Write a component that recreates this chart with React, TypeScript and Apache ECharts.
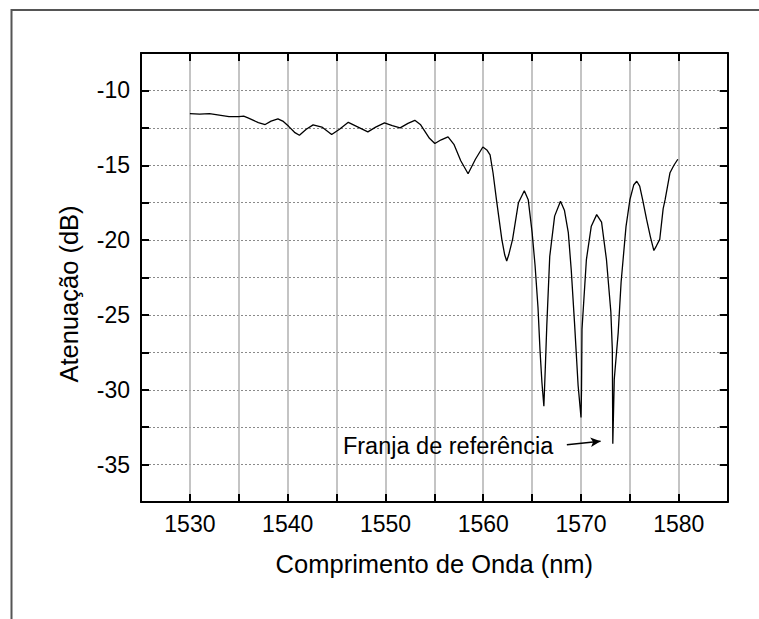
import React, { useEffect, useRef } from "react";
import * as echarts from "echarts";

const wavelengthNm = [
  1530.0, 1531.0, 1532.0, 1533.0, 1534.0, 1535.0, 1535.5, 1536.0, 1537.0, 1537.7,
  1538.3, 1539.0, 1539.5, 1540.1, 1540.7, 1541.2, 1541.9, 1542.6, 1543.5, 1544.5,
  1545.3, 1546.2, 1547.2, 1548.2, 1549.0, 1549.9, 1550.7, 1551.5, 1552.3, 1553.0,
  1553.6, 1554.5, 1555.05, 1555.7, 1556.4, 1557.0, 1557.7, 1558.45, 1559.2, 1559.96,
  1560.4, 1560.7, 1561.0, 1561.35, 1561.9, 1562.2, 1562.4, 1562.6, 1563.0, 1563.6,
  1564.2, 1564.6, 1565.0, 1565.3, 1565.6, 1565.8, 1566.0, 1566.2, 1566.35, 1566.5,
  1566.8, 1567.3, 1567.9, 1568.3, 1568.7, 1569.0, 1569.35, 1569.7, 1570.0, 1570.05,
  1570.1, 1570.55, 1571.05, 1571.6, 1572.1, 1572.6, 1573.05, 1573.2, 1573.25, 1573.4,
  1573.8, 1574.1, 1574.6, 1575.0, 1575.4, 1575.7, 1576.0, 1576.3, 1576.7, 1577.1,
  1577.45, 1577.7, 1578.05, 1578.4, 1578.6, 1579.1, 1579.5, 1579.9,
];

const attenuationDb = [
  -11.55, -11.58, -11.55, -11.65, -11.75, -11.75, -11.72, -11.85, -12.15, -12.28,
  -12.05, -11.9, -12.05, -12.4, -12.8, -13.0, -12.6, -12.3, -12.45, -12.95,
  -12.6, -12.13, -12.45, -12.77, -12.45, -12.17, -12.35, -12.5, -12.2, -12.0,
  -12.3, -13.2, -13.55, -13.3, -13.1, -13.6, -14.7, -15.57, -14.6, -13.78,
  -14.0, -14.3, -15.5, -17.3, -19.95, -21.0, -21.4, -21.0, -19.95, -17.5,
  -16.7, -17.3, -19.5, -21.7, -24.5, -27.3, -29.5, -31.1, -28.5, -25.7,
  -21.1, -18.4, -17.4, -18.0, -19.5, -22.0, -25.7, -29.7, -31.85, -30.0,
  -25.95, -21.3, -19.07, -18.3, -18.8, -21.3, -24.8, -27.3, -33.6, -29.3,
  -26.2, -22.8, -19.1, -17.3, -16.3, -16.07, -16.4, -17.3, -18.6, -19.8,
  -20.7, -20.4, -19.95, -17.9, -17.3, -15.5, -15.0, -14.6,
];

const xLabelValues = [1530, 1540, 1550, 1560, 1570, 1580];
const yLabelValues = [-10, -15, -20, -25, -30, -35];
const xAxisTitle = "Comprimento de Onda (nm)";
const yAxisTitle = "Atenuação (dB)";
const annotationText = "Franja de referência";
const annotationTextAnchor = [1545.65, -33.75];
const annotationArrowFrom = [1568.55, -33.67];
const annotationArrowTo = [1572.0, -33.44];

const FONT = '"Liberation Sans", Arial, Helvetica, sans-serif';

export default function App() {
  const ref = useRef<HTMLDivElement>(null);

  useEffect(() => {
    if (!ref.current) return;
    const chart = echarts.init(ref.current, null, { renderer: "svg" });
    const data = wavelengthNm.map((w, i) => [w, attenuationDb[i]]);

    const frameAxisLine = { show: true, onZero: false, lineStyle: { color: "#000", width: 2 } };
    const frameTick = { show: true, inside: true, length: 8, lineStyle: { color: "#000", width: 2 } };

    chart.setOption({
      animation: false,
      backgroundColor: "#fff",
      grid: {
        left: 141,
        top: 53,
        right: 31.3,
        bottom: 117,
        containLabel: false,
        outerBoundsMode: "none",
      },
      xAxis: [
        {
          type: "value",
          position: "bottom",
          min: 1525,
          max: 1585,
          interval: 5,
          axisLine: frameAxisLine,
          axisTick: frameTick,
          axisLabel: {
            margin: 10,
            fontSize: 23,
            fontFamily: FONT,
            color: "#000",
            formatter: (v: number) => (xLabelValues.includes(v) ? String(v) : ""),
          },
          splitLine: { show: true, lineStyle: { color: "#b0b0b0", width: 1.5 } },
          name: xAxisTitle,
          nameLocation: "middle",
          nameGap: 49,
          nameTextStyle: { fontSize: 25.5, fontFamily: FONT, color: "#000" },
        },
        {
          type: "value",
          position: "top",
          min: 1525,
          max: 1585,
          interval: 5,
          axisLine: frameAxisLine,
          axisTick: frameTick,
          axisLabel: { show: false },
          splitLine: { show: false },
        },
      ],
      yAxis: [
        {
          type: "value",
          position: "left",
          min: -37.5,
          max: -7.5,
          interval: 2.5,
          axisLine: frameAxisLine,
          axisTick: frameTick,
          axisLabel: {
            margin: 11,
            fontSize: 23,
            fontFamily: FONT,
            color: "#000",
            formatter: (v: number) => (yLabelValues.includes(v) ? String(v) : ""),
          },
          splitLine: { show: true, lineStyle: { color: "#8a8a8a", width: 1, type: [2, 2] } },
        },
        {
          type: "value",
          position: "right",
          min: -37.5,
          max: -7.5,
          interval: 2.5,
          axisLine: frameAxisLine,
          axisTick: frameTick,
          axisLabel: { show: false },
          splitLine: { show: false },
        },
      ],
      series: [
        {
          type: "line",
          xAxisIndex: 0,
          yAxisIndex: 0,
          data,
          symbol: "none",
          showSymbol: false,
          lineStyle: { color: "#000", width: 1.3 },
          z: 5,
          markLine: {
            silent: true,
            symbol: ["none", "arrow"],
            symbolSize: [7, 10],
            label: { show: false },
            lineStyle: { color: "#000", width: 1.5, type: "solid" },
            data: [[{ coord: annotationArrowFrom }, { coord: annotationArrowTo }]],
          },
        },
      ],
    });

    const p = chart.convertToPixel({ gridIndex: 0 }, annotationTextAnchor) as number[];
    chart.setOption({
      graphic: [
        {
          type: "polyline",
          shape: { points: [[11.5, 619], [11.5, 10], [759, 10]] },
          style: { stroke: "#555", lineWidth: 2, fill: "none" },
          silent: true,
        },
        {
          type: "text",
          x: 69,
          y: 294,
          rotation: Math.PI / 2,
          style: {
            text: yAxisTitle,
            fontSize: 25.5,
            fontFamily: FONT,
            fill: "#000",
            align: "center",
            verticalAlign: "middle",
          },
          silent: true,
        },
        {
          type: "text",
          x: p[0],
          y: p[1],
          style: {
            text: annotationText,
            fontSize: 23.5,
            fontFamily: FONT,
            fill: "#000",
            align: "left",
            verticalAlign: "middle",
          },
          z: 10,
        },
      ],
    });

    return () => chart.dispose();
  }, []);

  return (
    <div
      ref={ref}
      style={{ position: "absolute", left: 0, top: 0, width: 759, height: 619 }}
    />
  );
}
